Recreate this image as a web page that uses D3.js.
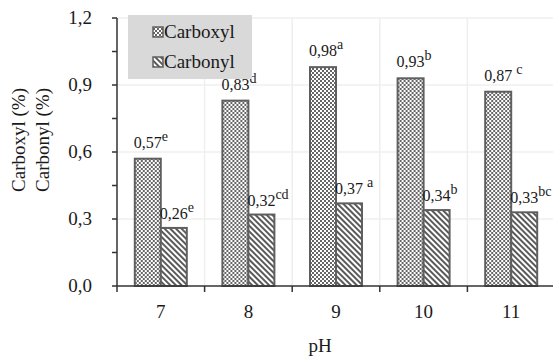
<!DOCTYPE html>
<html>
<head>
  <meta charset="utf-8">
  <script src="https://cdn.jsdelivr.net/npm/d3@7"></script>
  <style>
    html, body { margin: 0; font-family: 'Liberation Serif'; }
    svg, svg text { font-family: 'Liberation Serif' !important; }
  </style>
</head>
<body>
<script>
// Data
const phLevels = ["7", "8", "9", "10", "11"];
const seriesNames = ["Carboxyl", "Carbonyl"];
const carboxyl = [0.57, 0.83, 0.98, 0.93, 0.87];
const carbonyl = [0.26, 0.32, 0.37, 0.34, 0.33];
const carboxylSig = ["e", "d", "a", "b", " c"];
const carbonylSig = ["e", "cd", " a", "b", "bc"];
const yTicks = [0, 0.3, 0.6, 0.9, 1.2];
const yMinorTicks = [0, 0.15, 0.3, 0.45, 0.6, 0.75, 0.9, 1.05, 1.2];

const w = 553, h = 358;
const plotLeft = 117, plotRight = 555, plotTop = 18, plotBottom = 286;
const ink = "#1a1a1a";

const svg = d3.select("body").append("svg")
  .attr("width", w).attr("height", h)
  .style("font-family", "'Liberation Serif'");

// patterns
const defs = svg.append("defs");
const chk = defs.append("pattern").attr("id", "chk")
  .attr("width", 4).attr("height", 4).attr("patternUnits", "userSpaceOnUse");
chk.append("rect").attr("width", 4).attr("height", 4).attr("fill", "#fff");
chk.append("rect").attr("width", 2).attr("height", 2).attr("fill", "#666");
chk.append("rect").attr("x", 2).attr("y", 2).attr("width", 2).attr("height", 2).attr("fill", "#666");

const str = defs.append("pattern").attr("id", "str")
  .attr("width", 4).attr("height", 4).attr("patternUnits", "userSpaceOnUse")
  .attr("patternTransform", "rotate(-45)");
str.append("rect").attr("width", 4).attr("height", 4).attr("fill", "#fff");
str.append("rect").attr("width", 2).attr("height", 4).attr("fill", "#5a5a5a");

const fills = ["url(#chk)", "url(#str)"];

// scales
const x = d3.scaleBand().domain(phLevels).range([plotLeft, plotRight]).padding(0);
const xs = d3.scaleBand().domain(seriesNames).range([-26, 26]);
const y = d3.scaleLinear().domain([0, 1.2]).range([plotBottom, plotTop]);

// gridlines
svg.append("g").selectAll("line").data(yTicks.slice(1)).join("line")
  .attr("x1", plotLeft).attr("x2", w)
  .attr("y1", d => y(d)).attr("y2", d => y(d))
  .attr("stroke", "#efefef").attr("stroke-width", 1.5);
svg.append("g").selectAll("line").data(phLevels.slice(1)).join("line")
  .attr("x1", d => x(d)).attr("x2", d => x(d))
  .attr("y1", y(1.2)).attr("y2", plotBottom)
  .attr("stroke", "#efefef").attr("stroke-width", 1.5);

// bars
const rows = phLevels.map((p, i) => ({
  ph: p,
  vals: [
    { s: "Carboxyl", v: carboxyl[i], sig: carboxylSig[i], k: 0 },
    { s: "Carbonyl", v: carbonyl[i], sig: carbonylSig[i], k: 1 }
  ]
}));

const grp = svg.append("g").selectAll("g").data(rows).join("g")
  .attr("transform", d => "translate(" + (x(d.ph) + x.bandwidth() / 2) + ",0)");

grp.selectAll("rect").data(d => d.vals).join("rect")
  .attr("x", d => xs(d.s))
  .attr("y", d => y(d.v))
  .attr("width", xs.bandwidth())
  .attr("height", d => plotBottom - y(d.v))
  .attr("fill", d => fills[d.k])
  .attr("stroke", "#5f5f5f").attr("stroke-width", 2);

// value labels: number centred on bar, letters as superscript after it
grp.selectAll("text.v").data(d => d.vals).join("text")
  .attr("class", "v")
  .attr("x", d => xs(d.s) + xs.bandwidth() / 2)
  .attr("y", d => y(d.v) - (d.k === 0 ? 11 : 9))
  .attr("text-anchor", "middle").attr("fill", ink)
  .attr("font-size", 16)
  .text(d => d3.format(".2f")(d.v).replace(".", ","));
grp.selectAll("text.s").data(d => d.vals).join("text")
  .attr("class", "s")
  .attr("x", d => xs(d.s) + xs.bandwidth() / 2 + 14 + (d.sig[0] === " " ? 4 : 0))
  .attr("y", d => y(d.v) - (d.k === 0 ? 18 : 16))
  .attr("fill", ink)
  .attr("font-size", 14)
  .text(d => d.sig.trim());

// y axis
svg.append("line").attr("x1", plotLeft).attr("x2", plotLeft).attr("y1", plotTop).attr("y2", plotBottom + 6)
  .attr("stroke", "#333").attr("stroke-width", 1.5);
svg.append("g").selectAll("line").data(yMinorTicks).join("line")
  .attr("x1", plotLeft - 5).attr("x2", plotLeft)
  .attr("y1", d => y(d)).attr("y2", d => y(d))
  .attr("stroke", "#333").attr("stroke-width", 1.5);
svg.append("g").selectAll("text").data(yTicks).join("text")
  .attr("x", plotLeft - 25).attr("y", d => y(d) + 6)
  .attr("text-anchor", "end").attr("fill", ink)
  .attr("font-size", 19)
  .text(d => d3.format(".1f")(d).replace(".", ","));

// x axis
svg.append("line").attr("x1", plotLeft).attr("x2", w).attr("y1", plotBottom).attr("y2", plotBottom)
  .attr("stroke", "#333").attr("stroke-width", 1.5);
svg.append("g").selectAll("line").data(phLevels.slice(1)).join("line")
  .attr("x1", d => x(d)).attr("x2", d => x(d))
  .attr("y1", plotBottom).attr("y2", plotBottom + 6)
  .attr("stroke", "#333").attr("stroke-width", 1.5);
svg.append("g").selectAll("text").data(phLevels).join("text")
  .attr("x", d => x(d) + x.bandwidth() / 2).attr("y", plotBottom + 32)
  .attr("text-anchor", "middle").attr("fill", ink)
  .attr("font-size", 19)
  .text(d => d);

// axis titles
svg.append("text").attr("x", 320).attr("y", 352)
  .attr("text-anchor", "middle").attr("fill", ink)
  .attr("font-size", 19).text("pH");
svg.selectAll("text.yt").data(["Carboxyl (%)", "Carbonyl (%)"]).join("text")
  .attr("class", "yt")
  .attr("transform", (d, i) => "translate(" + (25 + i * 24) + ",140) rotate(-90)")
  .attr("text-anchor", "middle").attr("fill", ink)
  .attr("font-size", 19)
  .text(d => d);

// legend
const lg = svg.append("g");
lg.append("rect").attr("x", 128).attr("y", 15).attr("width", 124).attr("height", 64)
  .attr("fill", "#d9d9d9");
const li = lg.selectAll("g").data(seriesNames).join("g")
  .attr("transform", (d, i) => "translate(153," + (32 + i * 30) + ")");
li.append("rect").attr("x", 0).attr("y", -5).attr("width", 10).attr("height", 10)
  .attr("fill", (d, i) => fills[i]).attr("stroke", "#5f5f5f").attr("stroke-width", 1.5);
li.append("text").attr("x", 11).attr("y", 6).attr("fill", ink)
  .attr("font-size", 19)
  .text(d => d);
</script>
</body>
</html>
